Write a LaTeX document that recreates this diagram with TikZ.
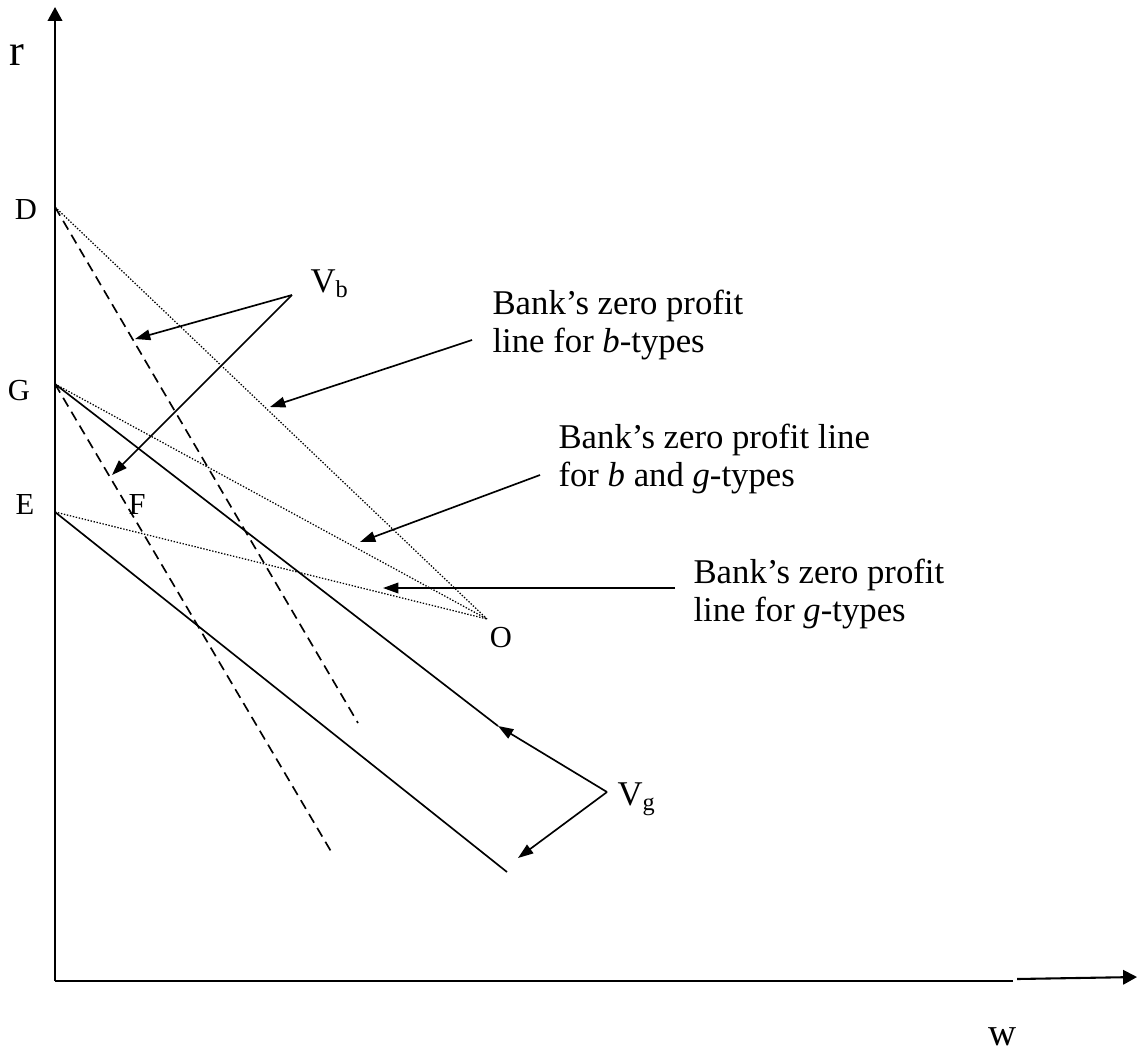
\documentclass[tikz,border=0pt]{standalone}
\usepackage{fontspec}
\setmainfont{Liberation Serif}
\usetikzlibrary{arrows.meta}

\begin{document}
\begin{tikzpicture}[
  x=0.36pt, y=-0.36pt,
  font=\fontsize{12.5}{14}\selectfont,
  axis/.style={line width=0.75pt},
  axisarrow/.style={axis, -{Triangle[length=5pt,width=5.2pt]}},
  arrow/.style={line width=0.6pt, -{Triangle[length=5.5pt,width=3.8pt]}},
  indiff/.style={line width=0.6pt, dash pattern=on 3.6pt off 2.2pt},
  budget/.style={line width=0.6pt},
  zeroline/.style={line width=0.45pt, dash pattern=on 0.5pt off 0.6pt},
  pt/.style={inner sep=0pt, font=\fontsize{11}{13}\selectfont},
  note/.style={inner sep=0pt, align=left, anchor=west}
]
\useasboundingbox (0,0) rectangle (1144,1057);

% Axes
\coordinate (orig) at (55,981);
\coordinate (ytop) at (55,7);
\coordinate (xbrk) at (1013,981);
\coordinate (xcont) at (1017,979);
\coordinate (xtip) at (1137,977);
\draw[axisarrow] (orig) -- (ytop);
\draw[axis] (orig) -- (xbrk);
\draw[axisarrow] (xcont) -- (xtip);
\node[inner sep=0pt, font=\fontsize{16}{18}\selectfont] (rlab) at (17,55) {r};
\node[inner sep=0pt, font=\fontsize{14}{16}\selectfont] (wlab) at (1003,1037) {w};

% Points on the r axis and the meeting point
\coordinate (D) at (55,207);
\coordinate (G) at (55,384);
\coordinate (E) at (55,512);
\coordinate (O) at (487,619);
\node[pt] (Dlab) at (26,210) {D};
\node[pt] (Glab) at (19,391) {G};
\node[pt] (Elab) at (25,504) {E};
\node[pt] (Flab) at (137,504) {F};
\node[pt] (Olab) at (501,638) {O};

% Zero profit lines
\draw[zeroline] (D) -- (O);
\draw[zeroline] (G) -- (O);
\draw[zeroline] (E) -- (O);

% Indifference curves of b-types
\coordinate (Dend) at (358,723);
\coordinate (Gdend) at (332,853);
\draw[indiff] (D) -- (Dend);
\draw[indiff] (G) -- (Gdend);

% Indifference curves of g-types
\coordinate (Gsend) at (498,726);
\coordinate (Esend) at (507,872);
\draw[budget] (G) -- (Gsend);
\draw[budget] (E) -- (Esend);

% V_b pointers
\node[inner sep=0pt, anchor=base west] (Vb) at (310,292) {V\textsubscript{b}};
\coordinate (vbapex) at (292,295);
\coordinate (vbtipA) at (135,339);
\coordinate (vbtipB) at (112,475);
\draw[arrow] (vbapex) -- (vbtipA);
\draw[arrow] (vbapex) -- (vbtipB);

% V_g pointers
\node[inner sep=0pt, anchor=base west] (Vg) at (617,805) {V\textsubscript{g}};
\coordinate (vgapex) at (607,792);
\draw[arrow] (vgapex) -- (Gsend);
\coordinate (vgtipB) at (518,858);
\draw[arrow] (vgapex) -- (vgtipB);

% Notes
\node[note] (noteb) at (492,325) {Bank's zero profit\\line for \textit{b}-types};
\node[note] (notebg) at (558,459) {Bank's zero profit line\\for \textit{b} and \textit{g}-types};
\node[note] (noteg) at (693,594) {Bank's zero profit\\line for \textit{g}-types};
\coordinate (nbtail) at (472,340);
\coordinate (nbtip) at (270,407);
\coordinate (nbgtail) at (540,475);
\coordinate (nbgtip) at (360,542);
\coordinate (ngtail) at (675,588);
\coordinate (ngtip) at (383,588);
\draw[arrow] (nbtail) -- (nbtip);
\draw[arrow] (nbgtail) -- (nbgtip);
\draw[arrow] (ngtail) -- (ngtip);

\end{tikzpicture}
\end{document}
